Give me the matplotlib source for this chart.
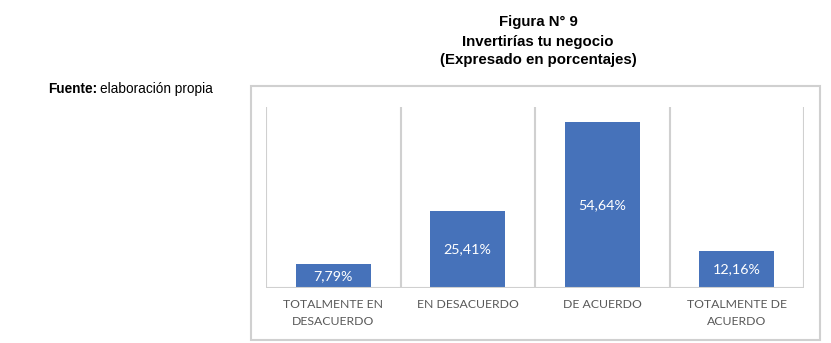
import matplotlib.pyplot as plt
from matplotlib.patches import Rectangle

# Datos
categorias = ['TOTALMENTE EN\nDESACUERDO', 'EN DESACUERDO', 'DE ACUERDO', 'TOTALMENTE DE\nACUERDO']
valores = [7.79, 25.41, 54.64, 12.16]
etiquetas = ['7,79%', '25,41%', '54,64%', '12,16%']

W, H = 831, 343
fig = plt.figure(figsize=(W / 100, H / 100), dpi=100)

# Marco exterior del gráfico
fig.patches.append(Rectangle((251 / W, 3 / H), 569 / W, 254 / H, transform=fig.transFigure,
                             fill=False, edgecolor='#d0d0d0', linewidth=1.5))

# Títulos
for y, txt in [(22, 'Figura N° 9'), (42, 'Invertirías tu negocio'), (60, '(Expresado en porcentajes)')]:
    fig.text(538 / W, 1 - y / H, txt, ha='center', va='center',
             fontsize=10.8, fontweight='bold', family='Liberation Sans')

# Fuente
t1 = fig.text(48 / W, 1 - 89 / H, 'Fuente:', ha='left', va='center',
              fontsize=9.8, fontweight='bold', family='Liberation Sans')
fig.canvas.draw()
bb = t1.get_window_extent()
fig.text((bb.x1 + 3) / W, 1 - 89 / H, 'elaboración propia', ha='left', va='center',
         fontsize=9.8, family='Liberation Sans')

ax = fig.add_axes([266 / W, 1 - 288 / H, 538 / W, 181 / H])
x = range(len(valores))
barras = ax.bar(x, valores, width=0.56, color='#4672BA')
for b, txt in zip(barras, etiquetas):
    ax.text(b.get_x() + b.get_width() / 2, b.get_height() / 2, txt, ha='center', va='center',
            color='white', fontsize=10.3, family='Lato')

ax.set_xlim(-0.5, 3.5)
ax.set_ylim(0, 59.5)
for s in [-0.5, 0.5, 1.5, 2.5, 3.5]:
    ax.axvline(s, color='#d0d0d0', linewidth=1.5, zorder=0)
for sp in ax.spines.values():
    sp.set_visible(False)
ax.axhline(0, color='#d0d0d0', linewidth=1.5)
ax.set_yticks([])
ax.set_xticks(list(x))
ax.set_xticklabels(categorias, fontsize=8.8, color='#595959', family='Lato', linespacing=1.6)
ax.tick_params(axis='x', length=0, pad=8)

plt.savefig('out.png', dpi=100)
